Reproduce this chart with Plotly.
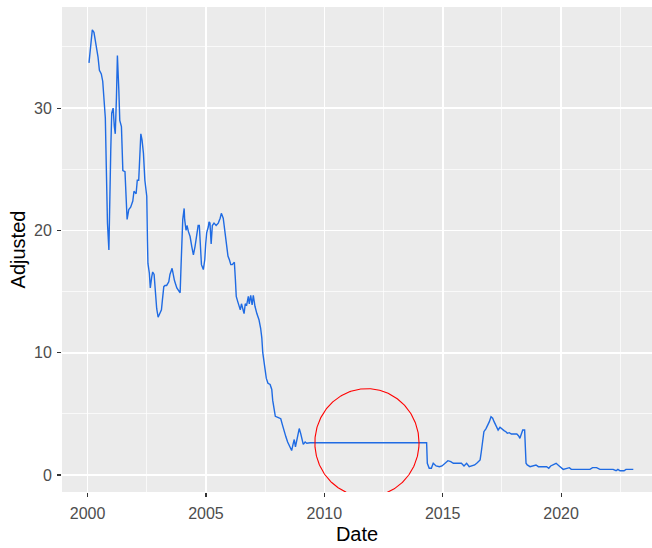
import numpy as np
import plotly.graph_objects as go

# Decimal years (Date) and adjusted price
date_years = [
    2000.06, 2000.09, 2000.14, 2000.20, 2000.27, 2000.36, 2000.44, 2000.50, 2000.58, 2000.64,
    2000.70, 2000.75, 2000.79, 2000.84, 2000.90, 2000.92, 2000.98, 2001.02, 2001.08, 2001.13,
    2001.17, 2001.22, 2001.26, 2001.32, 2001.36, 2001.43, 2001.49, 2001.58, 2001.63, 2001.67,
    2001.74, 2001.82, 2001.91, 2001.96, 2002.05, 2002.10, 2002.16, 2002.22, 2002.25, 2002.30,
    2002.36, 2002.42, 2002.50, 2002.53, 2002.55, 2002.61, 2002.65, 2002.71, 2002.75, 2002.81,
    2002.86, 2002.92, 2002.98, 2003.06, 2003.12, 2003.16, 2003.22, 2003.27, 2003.34, 2003.43,
    2003.48, 2003.57, 2003.60, 2003.67, 2003.77, 2003.85, 2003.91, 2003.95, 2003.98, 2004.02,
    2004.08, 2004.10, 2004.16, 2004.20, 2004.26, 2004.33, 2004.40, 2004.47, 2004.54, 2004.61,
    2004.67, 2004.72, 2004.76, 2004.81, 2004.89, 2004.95, 2004.99, 2005.03, 2005.10, 2005.13,
    2005.17, 2005.22, 2005.27, 2005.34, 2005.43, 2005.52, 2005.60, 2005.65, 2005.73, 2005.78,
    2005.84, 2005.88, 2005.93, 2005.99, 2006.05, 2006.11, 2006.20, 2006.24, 2006.28, 2006.34,
    2006.41, 2006.45, 2006.50, 2006.55, 2006.61, 2006.66, 2006.72, 2006.79, 2006.83, 2006.89,
    2006.95, 2007.00, 2007.07, 2007.15, 2007.24, 2007.31, 2007.36, 2007.40, 2007.45, 2007.50,
    2007.55, 2007.62, 2007.71, 2007.78, 2007.82, 2007.88, 2007.93, 2008.06, 2008.16, 2008.23,
    2008.31, 2008.38, 2008.45, 2008.55, 2008.62, 2008.69, 2008.73, 2008.78, 2008.83, 2008.90,
    2008.94, 2009.00, 2009.06, 2009.11, 2009.19, 2009.26, 2009.40, 2014.32, 2014.35, 2014.43,
    2014.52, 2014.60, 2014.72, 2014.86, 2014.97, 2015.08, 2015.22, 2015.34, 2015.45, 2015.62,
    2015.79, 2015.90, 2016.01, 2016.12, 2016.24, 2016.35, 2016.46, 2016.58, 2016.63, 2016.69,
    2016.74, 2016.83, 2016.91, 2016.97, 2017.04, 2017.11, 2017.17, 2017.25, 2017.34, 2017.42,
    2017.50, 2017.59, 2017.67, 2017.73, 2017.81, 2017.90, 2018.13, 2018.21, 2018.26, 2018.32,
    2018.38, 2018.46, 2018.52, 2018.57, 2018.69, 2018.94, 2019.04, 2019.39, 2019.48, 2019.56,
    2019.67, 2019.79, 2019.92, 2020.01, 2020.09, 2020.35, 2020.43, 2020.94, 2021.22, 2021.33,
    2021.50, 2021.64, 2022.20, 2022.32, 2022.40, 2022.49, 2022.66, 2022.74, 2023.05,
]
adjusted = [
    33.7, 34.3, 35.7, 36.4, 36.2, 35.3, 34.2, 33.1, 32.8, 32.2,
    30.8, 29.2, 25.3, 20.6, 18.4, 21.4, 26.6, 29.6, 30.0, 28.5,
    27.9, 30.9, 34.3, 31.5, 29.0, 28.5, 24.9, 24.8, 22.8, 20.9,
    21.7, 21.9, 22.4, 23.2, 23.0, 24.1, 24.1, 26.6, 27.9, 27.4,
    26.3, 24.1, 22.8, 19.1, 17.3, 16.5, 15.3, 16.2, 16.6, 16.4,
    15.1, 13.6, 12.9, 13.2, 13.5, 14.3, 15.4, 15.5, 15.5, 15.8,
    16.4, 16.9, 16.5, 15.9, 15.3, 15.0, 14.9, 17.2, 19.9, 20.9,
    21.8, 20.9, 20.0, 20.4, 19.9, 19.5, 18.7, 18.0, 18.7, 19.8,
    20.4, 20.4, 18.7, 17.2, 16.8, 17.6, 18.9, 19.8, 20.3, 20.7,
    20.6, 18.9, 20.4, 20.6, 20.4, 20.6, 21.0, 21.4, 21.0, 20.3,
    19.5, 18.9, 17.9, 17.6, 17.2, 17.2, 17.4, 16.1, 14.6, 14.2,
    13.8, 13.5, 14.0, 13.6, 13.2, 14.0, 13.9, 14.6, 14.0, 14.7,
    13.9, 14.7, 13.8, 13.2, 12.7, 12.0, 11.2, 10.0, 9.1, 8.6,
    7.9, 7.5, 7.4, 7.0, 6.1, 5.2, 4.8, 4.7, 4.6, 4.1,
    3.5, 3.1, 2.7, 2.3, 2.0, 2.6, 2.9, 2.3, 2.7, 3.4,
    3.8, 3.4, 2.9, 2.5, 2.7, 2.6, 2.64, 2.64, 0.96, 0.55,
    0.55, 0.96, 0.74, 0.68, 0.74, 0.90, 1.17, 1.09, 0.96, 0.96,
    0.96, 0.74, 0.96, 0.68, 0.74, 0.82, 1.00, 1.23, 1.90, 2.86,
    3.54, 3.80, 4.09, 4.36, 4.77, 4.64, 4.36, 4.09, 3.68, 3.90,
    3.74, 3.63, 3.54, 3.41, 3.46, 3.35, 3.35, 3.19, 3.00, 3.41,
    3.68, 3.68, 0.96, 0.82, 0.68, 0.82, 0.68, 0.68, 0.55, 0.74,
    0.82, 0.96, 0.74, 0.55, 0.46, 0.60, 0.46, 0.46, 0.46, 0.60,
    0.60, 0.46, 0.46, 0.35, 0.46, 0.35, 0.35, 0.46, 0.46,
]

x_ticks = [2000, 2005, 2010, 2015, 2020]
x_tick_labels = ["2000", "2005", "2010", "2015", "2020"]
y_ticks = [0, 10, 20, 30]
y_tick_labels = ["0", "10", "20", "30"]

# Highlight circle (data units)
circle_center_x = 2011.80
circle_center_y = 2.64
circle_radius_x = 2.20
circle_radius_y = 4.42

FONT = "Liberation Sans, Arial, sans-serif"

fig = go.Figure()
fig.add_trace(go.Scatter(
    x=date_years, y=adjusted, mode="lines",
    line=dict(color="#1F6BE3", width=1.4),
    showlegend=False, hoverinfo="skip",
))

# circle outline as a line trace so it is clipped to the panel like in ggplot
theta = np.linspace(0, 2 * np.pi, 361)
fig.add_trace(go.Scatter(
    x=circle_center_x + circle_radius_x * np.cos(theta),
    y=circle_center_y + circle_radius_y * np.sin(theta),
    mode="lines", line=dict(color="#FF0000", width=1.1),
    showlegend=False, hoverinfo="skip",
))

axis_common = dict(
    showgrid=True, gridcolor="#FFFFFF", gridwidth=1.6,
    zeroline=False, showline=False, automargin=False,
    ticks="outside", ticklen=4, tickwidth=1.1, tickcolor="#333333",
    tickfont=dict(family=FONT, size=16, color="#4D4D4D"),
)

fig.update_layout(
    width=652, height=548,
    margin=dict(l=62, r=0, t=7, b=56),
    paper_bgcolor="#FFFFFF", plot_bgcolor="#EBEBEB",
    font=dict(family=FONT),
    xaxis=dict(
        **axis_common,
        range=[1998.92, 2023.84],
        tickmode="array", tickvals=x_ticks, ticktext=x_tick_labels,
        minor=dict(dtick=2.5, tick0=2000, showgrid=True, gridcolor="#FFFFFF", gridwidth=0.7, ticks=""),
        title=dict(text="Date", font=dict(family=FONT, size=20, color="#000000"), standoff=5),
        ticklabelstandoff=3,
    ),
    yaxis=dict(
        **axis_common,
        range=[-1.39, 38.27],
        tickmode="array", tickvals=y_ticks, ticktext=y_tick_labels,
        minor=dict(dtick=5, tick0=0, showgrid=True, gridcolor="#FFFFFF", gridwidth=0.7, ticks=""),
        title=dict(text="Adjusted", font=dict(family=FONT, size=20, color="#000000"), standoff=3),
        ticklabelstandoff=2,
    ),
)

fig.write_html(
    "out.html",
    config={"displayModeBar": False, "staticPlot": True},
    post_script="document.body.style.margin='0';document.body.style.overflow='hidden';",
)
